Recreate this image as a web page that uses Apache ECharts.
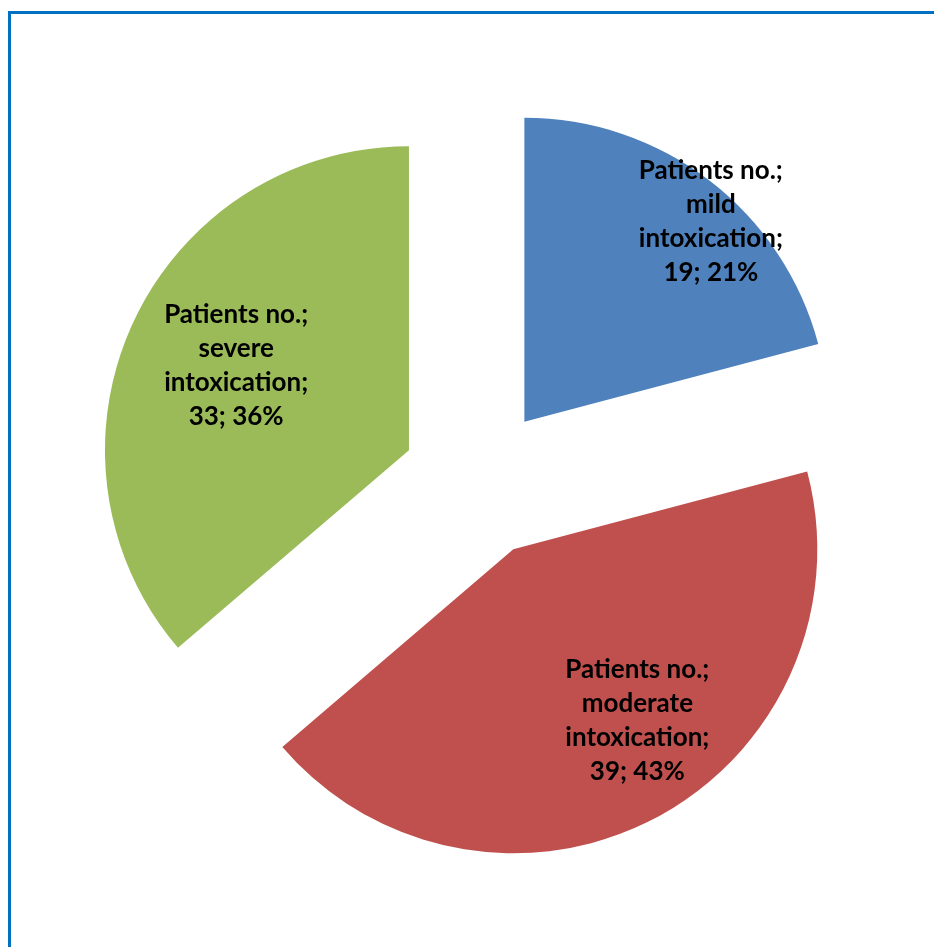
<!DOCTYPE html>
<html>
<head>
<meta charset="utf-8">
<script src="https://cdn.jsdelivr.net/npm/echarts@6/dist/echarts.min.js"></script>
<style>
html,body{margin:0;padding:0;background:#fff;}
#chart{position:absolute;left:0;top:0;width:934px;height:947px;}
#frame{position:absolute;left:8px;top:11px;width:940px;height:960px;border-left:3px solid #0070C0;border-top:3px solid #0070C0;pointer-events:none;}
</style>
</head>
<body>
<div id="chart"></div>
<div id="frame"></div>
<script>
const seriesName = 'Patients no.';
const categories = ['mild intoxication', 'moderate intoxication', 'severe intoxication'];
const values = [19, 39, 33];
const colors = ['#4F81BD', '#C0504D', '#9BBB59'];
const labelShift = [[92, -77], [52, 34], [-32, -20]];

const chart = echarts.init(document.getElementById('chart'), null, {renderer: 'canvas'});
chart.setOption({
  animation: false,
  backgroundColor: '#fff',
  series: [{
    type: 'pie',
    name: seriesName,
    center: [478, 482],
    radius: [0, 304],
    startAngle: 90,
    clockwise: true,
    percentPrecision: 0,
    selectedMode: 'multiple',
    selectedOffset: 76,
    avoidLabelOverlap: false,
    emphasis: {disabled: true},
    select: {itemStyle: {borderWidth: 0}},
    itemStyle: {borderWidth: 0},
    label: {
      show: true,
      position: 'inner',
      color: '#000',
      fontFamily: 'Lato',
      fontWeight: 'bold',
      fontSize: 26,
      lineHeight: 34,
      align: 'center',
      formatter: p => p.seriesName + ';\n' + p.name.replace(' ', '\n') + ';\n' + p.value + '; ' + Math.round(p.percent) + '%'
    },
    labelLayout: p => ({dx: labelShift[p.dataIndex][0], dy: labelShift[p.dataIndex][1]}),
    data: categories.map((c, i) => ({name: c, value: values[i], selected: true, itemStyle: {color: colors[i]}}))
  }]
});
</script>
</body>
</html>
